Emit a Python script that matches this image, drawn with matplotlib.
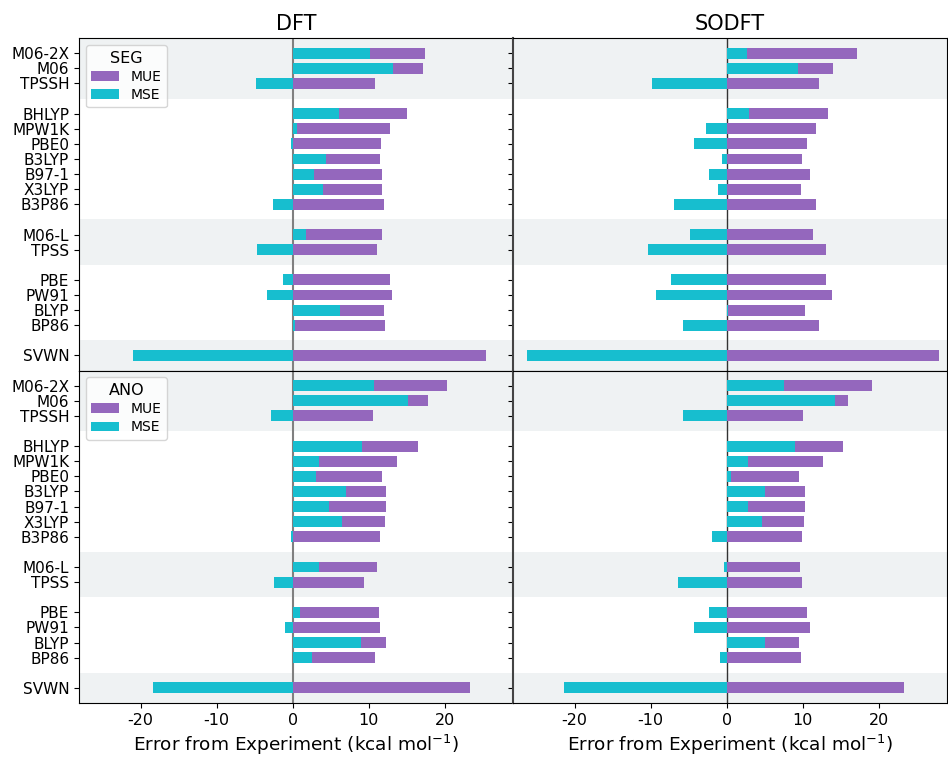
import numpy as np
import matplotlib
matplotlib.use('Agg')
import matplotlib.pyplot as plt

plt.rcParams['axes.unicode_minus'] = False

functionals = ['M06-2X', 'M06', 'TPSSH', 'BHLYP', 'MPW1K', 'PBE0', 'B3LYP', 'B97-1',
               'X3LYP', 'B3P86', 'M06-L', 'TPSS', 'PBE', 'PW91', 'BLYP', 'BP86', 'SVWN']
ypos = [0, 1, 2, 4, 5, 6, 7, 8, 9, 10, 12, 13, 15, 16, 17, 18, 20]
bands = [(-1, 3), (11, 14), (19, 21)]

# SEG basis
dft_seg_mue = [17.4, 17.1, 10.8, 15.0, 12.8, 11.6, 11.5, 11.75, 11.75, 12.0,
               11.75, 11.1, 12.8, 13.05, 12.0, 12.1, 25.4]
dft_seg_mse = [10.2, 13.2, -4.8, 6.1, 0.6, -0.2, 4.4, 2.8, 4.0, -2.6,
               1.75, -4.7, -1.3, -3.4, 6.2, 0.3, -21.0]
sodft_seg_mue = [17.2, 14.0, 12.2, 13.4, 11.7, 10.6, 9.95, 11.0, 9.8, 11.7,
                 11.4, 13.1, 13.1, 13.8, 10.35, 12.2, 28.0]
sodft_seg_mse = [2.7, 9.4, -9.8, 2.9, -2.7, -4.25, -0.55, -2.3, -1.1, -6.9,
                 -4.8, -10.4, -7.3, -9.25, 0.2, -5.7, -26.2]

# ANO basis
dft_ano_mue = [20.3, 17.8, 10.55, 16.5, 13.7, 11.75, 12.3, 12.3, 12.15, 11.5,
               11.1, 9.4, 11.35, 11.5, 12.3, 10.8, 23.3]
dft_ano_mse = [10.7, 15.2, -2.85, 9.1, 3.45, 3.05, 7.0, 4.8, 6.5, -0.2,
               3.45, -2.5, 0.95, -1.0, 9.0, 2.55, -18.4]
sodft_ano_mue = [19.15, 16.0, 10.1, 15.35, 12.7, 9.55, 10.35, 10.35, 10.2, 9.95,
                 9.7, 9.95, 10.6, 11.0, 9.55, 9.8, 23.4]
sodft_ano_mse = [7.6, 14.2, -5.8, 9.0, 2.85, 0.6, 5.1, 2.85, 4.7, -1.9,
                 -0.3, -6.35, -2.3, -4.25, 5.1, -0.85, -21.35]

panels = [[(dft_seg_mue, dft_seg_mse), (sodft_seg_mue, sodft_seg_mse)],
          [(dft_ano_mue, dft_ano_mse), (sodft_ano_mue, sodft_ano_mse)]]
basis = ['SEG', 'ANO']
titles = ['DFT', 'SODFT']

fig, axes = plt.subplots(2, 2, figsize=(9.48, 7.61), dpi=100, sharex=True, sharey=True)
fig.subplots_adjust(left=0.0833, right=0.999, top=0.950, bottom=0.0762, wspace=0, hspace=0)

for i in range(2):
    for j in range(2):
        ax = axes[i, j]
        mue, mse = panels[i][j]
        for lo, hi in bands:
            ax.axhspan(lo, hi, color='#eff2f3', lw=0, zorder=0)
        ax.barh(ypos, mue, height=0.72, color='tab:purple', label='MUE', zorder=2)
        ax.barh(ypos, mse, height=0.72, color='tab:cyan', label='MSE', zorder=3)
        if j == 0:
            ax.axvline(0, color='gray', lw=1.5, zorder=1)
        else:
            ax.axvline(0, color='#333333', lw=1.0, zorder=1)
            ax.spines['left'].set_color('#444444')
            ax.spines['left'].set_linewidth(1.5)
        ax.set_xlim(-28.1, 29.0)
        ax.set_ylim(21, -1)
        ax.set_yticks(ypos)
        ax.set_yticklabels(functionals, fontsize=11)
        ax.tick_params(axis='x', labelsize=11.5)
        if i == 0:
            ax.set_title(titles[j], fontsize=15)
            ax.tick_params(axis='x', bottom=False)
        else:
            ax.set_xticks([-20, -10, 0, 10, 20])
            ax.set_xlabel('Error from Experiment (kcal mol$^{-1}$)', fontsize=13.3)
        if j == 1:
            ax.tick_params(axis='y', labelleft=False)
        if j == 0:
            ax.legend(loc='upper left', title=basis[i], fontsize=10,
                      title_fontsize=11.5, labelspacing=0.3, handlelength=2.0)

plt.savefig('out.png')
